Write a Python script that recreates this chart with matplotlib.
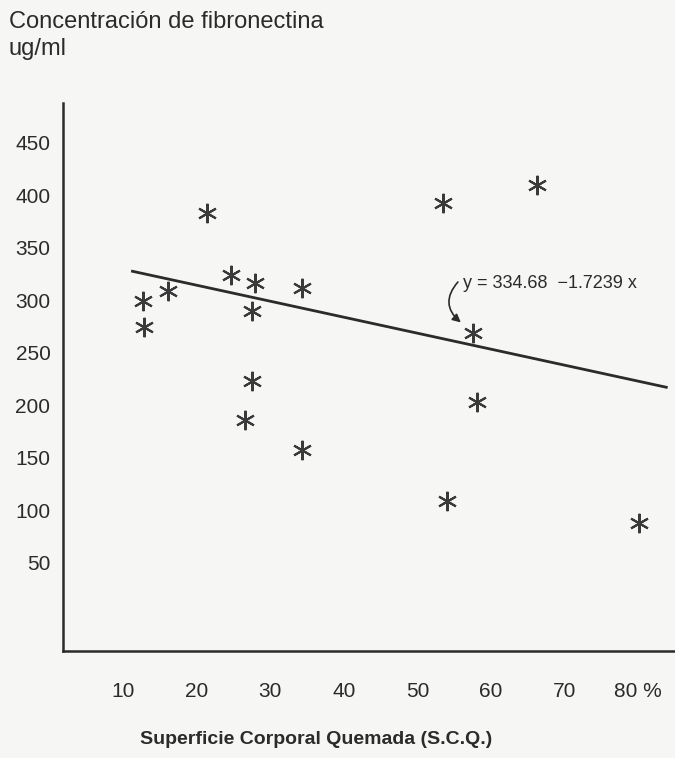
import matplotlib
matplotlib.use("Agg")
import matplotlib.pyplot as plt

# % superficie corporal quemada vs fibronectina (ug/ml)
sup_x = [12.7, 12.9, 16.1, 21.4, 24.7, 27.5, 27.9, 27.5, 26.6, 34.3, 34.3,
         53.5, 54.0, 57.6, 58.1, 66.3, 80.1]
fib_y = [299, 275, 309, 383, 324, 290, 317, 223, 186, 312, 158,
         393, 109, 269, 203, 410, 88]

# regression line as drawn
reg_x = [11.1, 84.0]
reg_y = [328, 217]

x_ticks = [10, 20, 30, 40, 50, 60, 70, 80]
x_labels = ["10", "20", "30", "40", "50", "60", "70", "80 %"]
y_ticks = [50, 100, 150, 200, 250, 300, 350, 400, 450]

eq_text = "y = 334.68  \u22121.7239 x"

plt.rcParams['font.family'] = ['Liberation Sans', 'DejaVu Sans']
ink = "#2b2b2b"

fig = plt.figure(figsize=(6.75, 7.58), dpi=100)
fig.patch.set_facecolor("#f6f6f4")
ax = fig.add_axes([0.0933, 0.1412, 0.9067, 0.7230])
ax.set_facecolor("#f6f6f4")

ax.plot(reg_x, reg_y, color=ink, lw=2.0, solid_capstyle="butt")
ax.plot(sup_x, fib_y, ls="none", marker=(6, 2, 0), ms=14, mew=1.5,
        color="#3a3a3a")

ax.text(56.2, 316.5, eq_text, fontsize=13, color=ink,
        ha="left", va="center")
ax.annotate("", xy=(55.9, 279.0), xytext=(55.5, 317.5),
            arrowprops=dict(arrowstyle="-|>", color=ink, lw=1.2,
                            mutation_scale=12, shrinkA=0, shrinkB=0,
                            connectionstyle="arc3,rad=0.5"))

ax.set_xlim(1.84, 85.0)
ax.set_ylim(-33.8, 488)
ax.set_xticks(x_ticks)
ax.set_xticklabels(x_labels)
ax.set_yticks(y_ticks)
ax.tick_params(length=0, labelsize=15, colors=ink)
ax.tick_params(axis="x", pad=22)
ax.tick_params(axis="y", pad=9)

for s in ["top", "right"]:
    ax.spines[s].set_visible(False)
for s in ["left", "bottom"]:
    ax.spines[s].set_color(ink)
    ax.spines[s].set_linewidth(1.8)

fig.text(0.013, 0.971, "Concentración de fibronectina", fontsize=17,
         color=ink, ha="left", va="center")
fig.text(0.013, 0.935, "ug/ml", fontsize=17, color=ink,
         ha="left", va="center")

fig.text(0.468, 0.013, "Superficie Corporal Quemada (S.C.Q.)", fontsize=14,
         fontweight="bold", color=ink, ha="center", va="bottom")

fig.savefig("out.png", dpi=100, facecolor=fig.get_facecolor())
